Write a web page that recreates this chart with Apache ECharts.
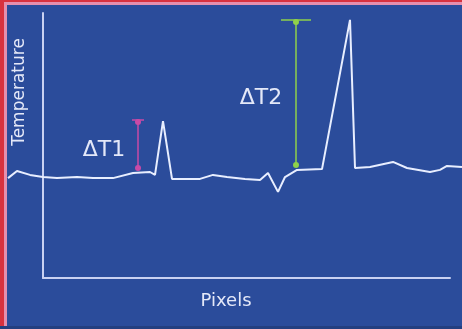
<!DOCTYPE html>
<html>
<head>
<meta charset="utf-8">
<script src="https://cdn.jsdelivr.net/npm/echarts@6/dist/echarts.min.js"></script>
<style>
  html, body { margin: 0; padding: 0; background: #2b4c9b; }
  #chart { width: 462px; height: 329px; }
</style>
</head>
<body>
<div id="chart"></div>
<script>
// pixel index along the sensor line and the temperature read at each one
const pixels = [0, 9, 22, 35, 49, 69, 85, 105, 125, 142, 147, 155, 164, 192, 205, 219,
  237, 252, 260, 270, 277, 289, 314, 342, 347, 362, 385, 399, 422, 432, 439, 454];
const temperature = [37.7, 40.4, 38.9, 38.1, 37.7, 38.1, 37.7, 37.7, 39.6, 40.0, 38.9, 59.2, 37.4, 37.4, 38.9, 38.1,
  37.4, 37.0, 39.6, 32.5, 38.1, 40.8, 41.1, 97.4, 41.5, 41.9, 43.8, 41.5, 40.0, 40.8, 42.3, 41.9];

// delta annotations: [pixel, low temp, high temp, cap half width]
const deltaT1 = [130, 41.5, 58.9, 6];
const deltaT2 = [288, 42.6, 96.6, 15];
const deltaLabels = [
  { name: 'ΔT1', coord: [96, 48.3] },
  { name: 'ΔT2', coord: [253, 67.9] },
];

const textColor = '#e4e8f8';
const axisColor = '#c9d1f2';
const pink = '#c94aa6';
const green = '#8fd14a';

function deltaLines(d) {
  const [x, lo, hi, half] = d;
  return [
    [{ coord: [x, lo], symbol: 'circle' }, { coord: [x, hi], symbol: 'circle' }],
    [{ coord: [x - half, hi + 0.8], symbol: 'none' }, { coord: [x + half, hi + 0.8], symbol: 'none' }],
  ];
}

const hiddenAxis = {
  axisLine: { show: false },
  axisTick: { show: false },
  axisLabel: { show: false },
  splitLine: { show: false },
};
const shownAxis = {
  axisLine: { show: true, lineStyle: { color: axisColor, width: 2 } },
  axisTick: { show: false },
  axisLabel: { show: false },
  splitLine: { show: false },
};

const chart = echarts.init(document.getElementById('chart'));

chart.setOption({
  backgroundColor: '#2b4c9b',
  animation: false,
  grid: [
    // the trace runs across the whole picture
    { left: 8, right: 0, top: 13, bottom: 51 },
    // the drawn axes
    { left: 43, right: 12, top: 13, bottom: 51 },
  ],
  xAxis: [
    { type: 'value', gridIndex: 0, min: 0, max: 454, ...hiddenAxis },
    { type: 'value', gridIndex: 1, min: 35, max: 442, ...shownAxis },
  ],
  yAxis: [
    { type: 'value', gridIndex: 0, min: 0, max: 100, ...hiddenAxis },
    { type: 'value', gridIndex: 1, min: 0, max: 100, ...shownAxis },
  ],
  graphic: [
    { type: 'rect', left: 0, top: 0, shape: { width: 462, height: 2 }, style: { fill: '#d8323f' } },
    { type: 'rect', left: 0, top: 2, shape: { width: 462, height: 3 }, style: { fill: '#e58fae' } },
    { type: 'rect', left: 0, top: 0, shape: { width: 4, height: 329 }, style: { fill: '#d8323f' } },
    { type: 'rect', left: 4, top: 2, shape: { width: 3, height: 327 }, style: { fill: '#e58fae' } },
    { type: 'rect', left: 0, top: 326, shape: { width: 462, height: 3 }, style: { fill: '#243f80' } },
    {
      type: 'text',
      x: 20, y: 92,
      rotation: Math.PI / 2,
      style: {
        text: 'Temperature', fill: textColor, font: '17px "DejaVu Sans"',
        align: 'center', verticalAlign: 'middle',
      },
    },
    {
      type: 'text',
      x: 226, y: 301,
      style: {
        text: 'Pixels', fill: textColor, font: '18px "DejaVu Sans"',
        align: 'center', verticalAlign: 'middle',
      },
    },
  ],
  series: [
    {
      type: 'line',
      xAxisIndex: 0,
      yAxisIndex: 0,
      data: pixels.map((p, i) => [p, temperature[i]]),
      clip: false,
      showSymbol: false,
      lineStyle: { color: '#e8eeff', width: 2 },
      markPoint: {
        symbol: 'circle',
        symbolSize: 0,
        data: deltaLabels.map((d) => ({
          coord: d.coord,
          label: {
            show: true, formatter: d.name, color: textColor,
            fontFamily: 'DejaVu Sans', fontSize: 22,
          },
        })),
      },
    },
    {
      type: 'line',
      xAxisIndex: 0,
      yAxisIndex: 0,
      data: [],
      markLine: {
        silent: true,
        symbolSize: 6,
        lineStyle: { color: pink, width: 1.5, type: 'solid' },
        itemStyle: { color: pink },
        label: { show: false },
        data: deltaLines(deltaT1),
      },
    },
    {
      type: 'line',
      xAxisIndex: 0,
      yAxisIndex: 0,
      data: [],
      markLine: {
        silent: true,
        symbolSize: 6,
        lineStyle: { color: green, width: 1.5, type: 'solid' },
        itemStyle: { color: green },
        label: { show: false },
        data: deltaLines(deltaT2),
      },
    },
  ],
});
</script>
</body>
</html>
